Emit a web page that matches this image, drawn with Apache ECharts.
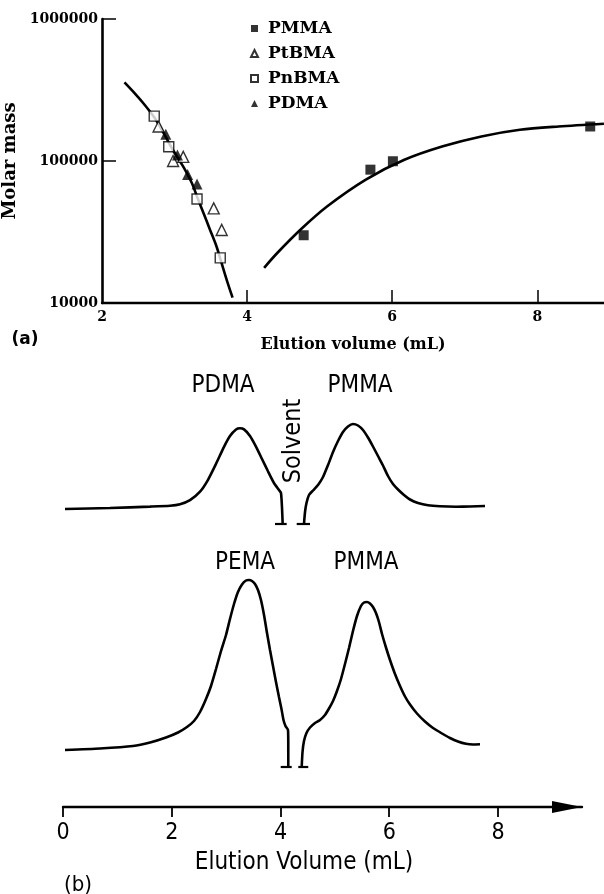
<!DOCTYPE html>
<html><head><meta charset="utf-8">
<script src="https://cdn.jsdelivr.net/npm/echarts@6/dist/echarts.min.js"></script>
<style>html,body{margin:0;padding:0;background:#fff}#c{width:604px;height:894px}</style>
</head><body><div id="c"></div>
<script>
// ---------- (a) molar mass vs elution volume ----------
const xTicksTop = [2, 4, 6, 8];
const pmmaVol  = [4.78, 5.70, 6.01, 8.73];
const pmmaMass = [30000, 86900, 99600, 175000];
const ptbmaVol  = [2.78, 2.98, 3.12, 3.54, 3.65];
const ptbmaMass = [175000, 100000, 107000, 46400, 32700];
const pnbmaVol  = [2.72, 2.92, 3.31, 3.63];
const pnbmaMass = [207000, 126000, 54000, 20800];
const pdmaVol  = [2.88, 3.04, 3.18, 3.31];
const pdmaMass = [154000, 110000, 80500, 68800];
const calLeftVol  = [2.31, 2.43, 2.57, 2.72, 2.85, 2.98, 3.12, 3.24, 3.31, 3.40, 3.49, 3.58, 3.65, 3.72, 3.80];
const calLeftMass = [358000, 308000, 255000, 203000, 157000, 119000, 91200, 69700, 56100, 42900, 32700, 24900, 19000, 14500, 10900];
const calRightVol  = [4.235, 4.416, 4.735, 5.106, 5.637, 6.168, 6.699, 7.230, 7.761, 8.292, 8.919];
const calRightMass = [17700, 22500, 32800, 48000, 74000, 102000, 127000, 149000, 166000, 175000, 183000];

// ---------- (b) chromatograms (detector signal, arbitrary units) ----------
const xTicksBottom = [0, 2, 4, 6, 8];
const pdmaTraceVol = [0.037, 0.864, 1.600, 1.968, 2.152, 2.336, 2.520, 2.667, 2.814, 2.961, 3.071, 3.182, 3.255, 3.329, 3.439, 3.549, 3.660, 3.770, 3.880, 3.972, 4.009, 4.028, 4.040];
const pdmaTraceSig = [298, 299, 300.4, 301.3, 302.8, 306.9, 315.3, 327.2, 343.1, 360.1, 370.9, 377.5, 378.7, 377.6, 371, 360.4, 348, 335.7, 324, 317, 314, 299, 283];
const pmma1TraceVol = [4.432, 4.451, 4.478, 4.524, 4.598, 4.690, 4.782, 4.874, 4.966, 5.058, 5.149, 5.241, 5.333, 5.425, 5.517, 5.609, 5.701, 5.793, 5.885, 5.977, 6.069, 6.161, 6.271, 6.382, 6.529, 6.713, 6.933, 7.228, 7.485, 7.761];
const pmma1TraceSig = [283, 295, 304, 312, 316.5, 322, 330, 342, 355, 366, 375, 380.5, 383, 381.5, 377, 369.5, 360.5, 351, 341.5, 331, 323, 317.5, 312, 307.5, 304, 301.7, 300.7, 300.3, 300.5, 301];
const pemaTraceVol = [0.037, 0.680, 1.287, 1.600, 1.894, 2.115, 2.280, 2.409, 2.520, 2.630, 2.722, 2.814, 2.906, 2.998, 3.071, 3.145, 3.218, 3.292, 3.366, 3.421, 3.476, 3.531, 3.586, 3.641, 3.697, 3.752, 3.807, 3.862, 3.917, 3.972, 4.018, 4.055, 4.092, 4.138, 4.143, 4.143];
const pemaTraceSig = [57, 58.5, 61, 64.5, 69.5, 74.5, 80, 86, 95, 108, 121, 138, 156, 172, 188, 203, 215, 222.5, 226.5, 227, 226, 223, 217, 207, 192, 174, 157, 141, 125, 110, 98, 87, 81, 77, 62, 40];
const pmma2TraceVol = [4.390, 4.405, 4.432, 4.478, 4.543, 4.635, 4.727, 4.818, 4.892, 4.966, 5.039, 5.113, 5.186, 5.260, 5.333, 5.407, 5.480, 5.536, 5.591, 5.646, 5.701, 5.756, 5.811, 5.867, 5.940, 6.014, 6.106, 6.198, 6.290, 6.382, 6.510, 6.657, 6.805, 6.970, 7.117, 7.264, 7.411, 7.540, 7.669];
const pmma2TraceSig = [40, 55, 66, 74, 79.5, 84, 87, 92, 98.5, 106, 116, 128, 143, 159, 176, 191, 201, 204.5, 205, 203.5, 200, 194, 185, 173, 159.5, 147, 133, 121, 110.5, 102.5, 93.5, 85.5, 79, 73.5, 69, 65.5, 63.2, 62.5, 62.7];
// solvent-peak cut-off bars
const cut1aVol = [3.899, 4.114]; const cut1aSig = [283, 283];
const cut1bVol = [4.298, 4.543]; const cut1bSig = [283, 283];
const cut2aVol = [4.004, 4.206]; const cut2aSig = [40, 40];
const cut2bVol = [4.327, 4.511]; const cut2bSig = [40, 40];

const zip = (xs, ys) => xs.map((x, i) => [x, ys[i]]);
const serifB = {fontFamily: 'DejaVu Serif', fontWeight: 'bold', color: '#000'};
const drafting = '"DejaVu Sans Condensed", "Liberation Sans Narrow", "DejaVu Sans", sans-serif';

const chart = echarts.init(document.getElementById('c'), null, {renderer: 'canvas'});

const lineBase = (data, xi, yi, sm) => ({
  type: 'line', data: data, xAxisIndex: xi, yAxisIndex: yi, symbol: 'none',
  smooth: sm, lineStyle: {color: '#000', width: 2.6}, silent: true, z: 2
});
const barBase = (data) => ({
  type: 'line', data: data, xAxisIndex: 1, yAxisIndex: 1, symbol: 'none',
  lineStyle: {color: '#000', width: 2.2}, silent: true
});

chart.setOption({
  animation: false,
  backgroundColor: '#fff',
  grid: [
    {left: 102, right: 0, top: 19, bottom: 591, containLabel: false, outerBoundsMode: 'none'},
    {left: 63, right: 22, top: 380, bottom: 87, containLabel: false, outerBoundsMode: 'none'}
  ],
  legend: {
    data: ['PMMA', 'PtBMA', 'PnBMA', 'PDMA'],
    orient: 'vertical', left: 245, top: 15, itemGap: 8,
    itemWidth: 7, itemHeight: 7,
    textStyle: Object.assign({fontSize: 17, padding: [0, 0, 0, 5]}, serifB),
    selectedMode: false
  },
  xAxis: [
    {
      gridIndex: 0, type: 'value', min: 2, max: 8.92,
      name: 'Elution volume (mL)', nameLocation: 'middle', nameGap: 34,
      nameTextStyle: Object.assign({fontSize: 16}, serifB),
      axisLine: {onZero: false, lineStyle: {color: '#000', width: 2.4}},
      axisTick: {inside: true, length: 13, lineStyle: {color: '#000', width: 1.5}, customValues: [4, 6, 8]},
      axisLabel: Object.assign({fontSize: 14, margin: 7, customValues: xTicksTop}, serifB),
      splitLine: {show: false}
    },
    {
      gridIndex: 1, type: 'value', min: 0, max: 9.545,
      axisLine: {onZero: false, symbol: ['none', 'triangle'], symbolSize: [12, 30], symbolOffset: [0, -15],
                 lineStyle: {color: '#000', width: 2.4}},
      axisTick: {inside: false, length: 10, lineStyle: {color: '#000', width: 1.8}, customValues: xTicksBottom},
      axisLabel: {fontSize: 23, margin: 15, color: '#000', fontFamily: drafting, customValues: xTicksBottom},
      splitLine: {show: false}
    }
  ],
  yAxis: [
    {
      gridIndex: 0, type: 'log', logBase: 10, min: 10000, max: 1000000,
      name: 'Molar mass', nameLocation: 'middle', nameRotate: 90, nameGap: 80,
      nameTextStyle: Object.assign({fontSize: 18}, serifB),
      axisLine: {onZero: false, lineStyle: {color: '#000', width: 2.6}},
      axisTick: {inside: true, length: 14, lineStyle: {color: '#000', width: 1.5}},
      minorTick: {show: false},
      axisLabel: Object.assign({fontSize: 14, margin: 4, formatter: v => String(Math.round(v))}, serifB),
      splitLine: {show: false}
    },
    {gridIndex: 1, type: 'value', min: 0, max: 427, show: false}
  ],
  series: [
    {name: 'PMMA', type: 'scatter', xAxisIndex: 0, yAxisIndex: 0, symbol: 'rect', symbolSize: 10,
     itemStyle: {color: '#000'}, data: zip(pmmaVol, pmmaMass), z: 5},
    {name: 'PtBMA', type: 'scatter', xAxisIndex: 0, yAxisIndex: 0, symbol: 'triangle', symbolSize: 11,
     itemStyle: {color: '#fff', borderColor: '#000', borderWidth: 1.4}, data: zip(ptbmaVol, ptbmaMass), z: 5},
    {name: 'PnBMA', type: 'scatter', xAxisIndex: 0, yAxisIndex: 0, symbol: 'rect', symbolSize: 10,
     itemStyle: {color: '#fff', borderColor: '#000', borderWidth: 1.4}, data: zip(pnbmaVol, pnbmaMass), z: 5},
    {name: 'PDMA', type: 'scatter', xAxisIndex: 0, yAxisIndex: 0, symbol: 'triangle', symbolSize: 11,
     itemStyle: {color: '#000'}, data: zip(pdmaVol, pdmaMass), z: 5},
    lineBase(zip(calLeftVol, calLeftMass), 0, 0, 0.3),
    lineBase(zip(calRightVol, calRightMass), 0, 0, 0.3),
    lineBase(zip(pdmaTraceVol, pdmaTraceSig), 1, 1, 0.2),
    lineBase(zip(pmma1TraceVol, pmma1TraceSig), 1, 1, 0.2),
    lineBase(zip(pemaTraceVol, pemaTraceSig), 1, 1, 0.2),
    lineBase(zip(pmma2TraceVol, pmma2TraceSig), 1, 1, 0.2),
    barBase(zip(cut1aVol, cut1aSig)),
    barBase(zip(cut1bVol, cut1bSig)),
    barBase(zip(cut2aVol, cut2aSig)),
    barBase(zip(cut2bVol, cut2bSig))
  ],
  graphic: [
    {type: 'text', x: 25, y: 340, style: {text: '(a)', fontFamily: 'DejaVu Sans', fontWeight: 'bold', fontSize: 17, fill: '#000', align: 'center', verticalAlign: 'middle'}},
    {type: 'text', x: 223, y: 386, style: {text: 'PDMA', fontFamily: drafting, fontSize: 24, fill: '#000', align: 'center', verticalAlign: 'middle'}},
    {type: 'text', x: 360, y: 386, style: {text: 'PMMA', fontFamily: drafting, fontSize: 24, fill: '#000', align: 'center', verticalAlign: 'middle'}},
    {type: 'text', x: 293, y: 441, rotation: Math.PI / 2, style: {text: 'Solvent', fontFamily: drafting, fontSize: 25, fill: '#000', align: 'center', verticalAlign: 'middle'}},
    {type: 'text', x: 245, y: 563, style: {text: 'PEMA', fontFamily: drafting, fontSize: 24, fill: '#000', align: 'center', verticalAlign: 'middle'}},
    {type: 'text', x: 366, y: 563, style: {text: 'PMMA', fontFamily: drafting, fontSize: 24, fill: '#000', align: 'center', verticalAlign: 'middle'}},
    {type: 'text', x: 304, y: 863, style: {text: 'Elution Volume (mL)', fontFamily: drafting, fontSize: 24, fill: '#000', align: 'center', verticalAlign: 'middle'}},
    {type: 'text', x: 78, y: 885, style: {text: '(b)', fontFamily: drafting, fontSize: 22, fill: '#000', align: 'center', verticalAlign: 'middle'}}
  ]
});
</script>
</body></html>
